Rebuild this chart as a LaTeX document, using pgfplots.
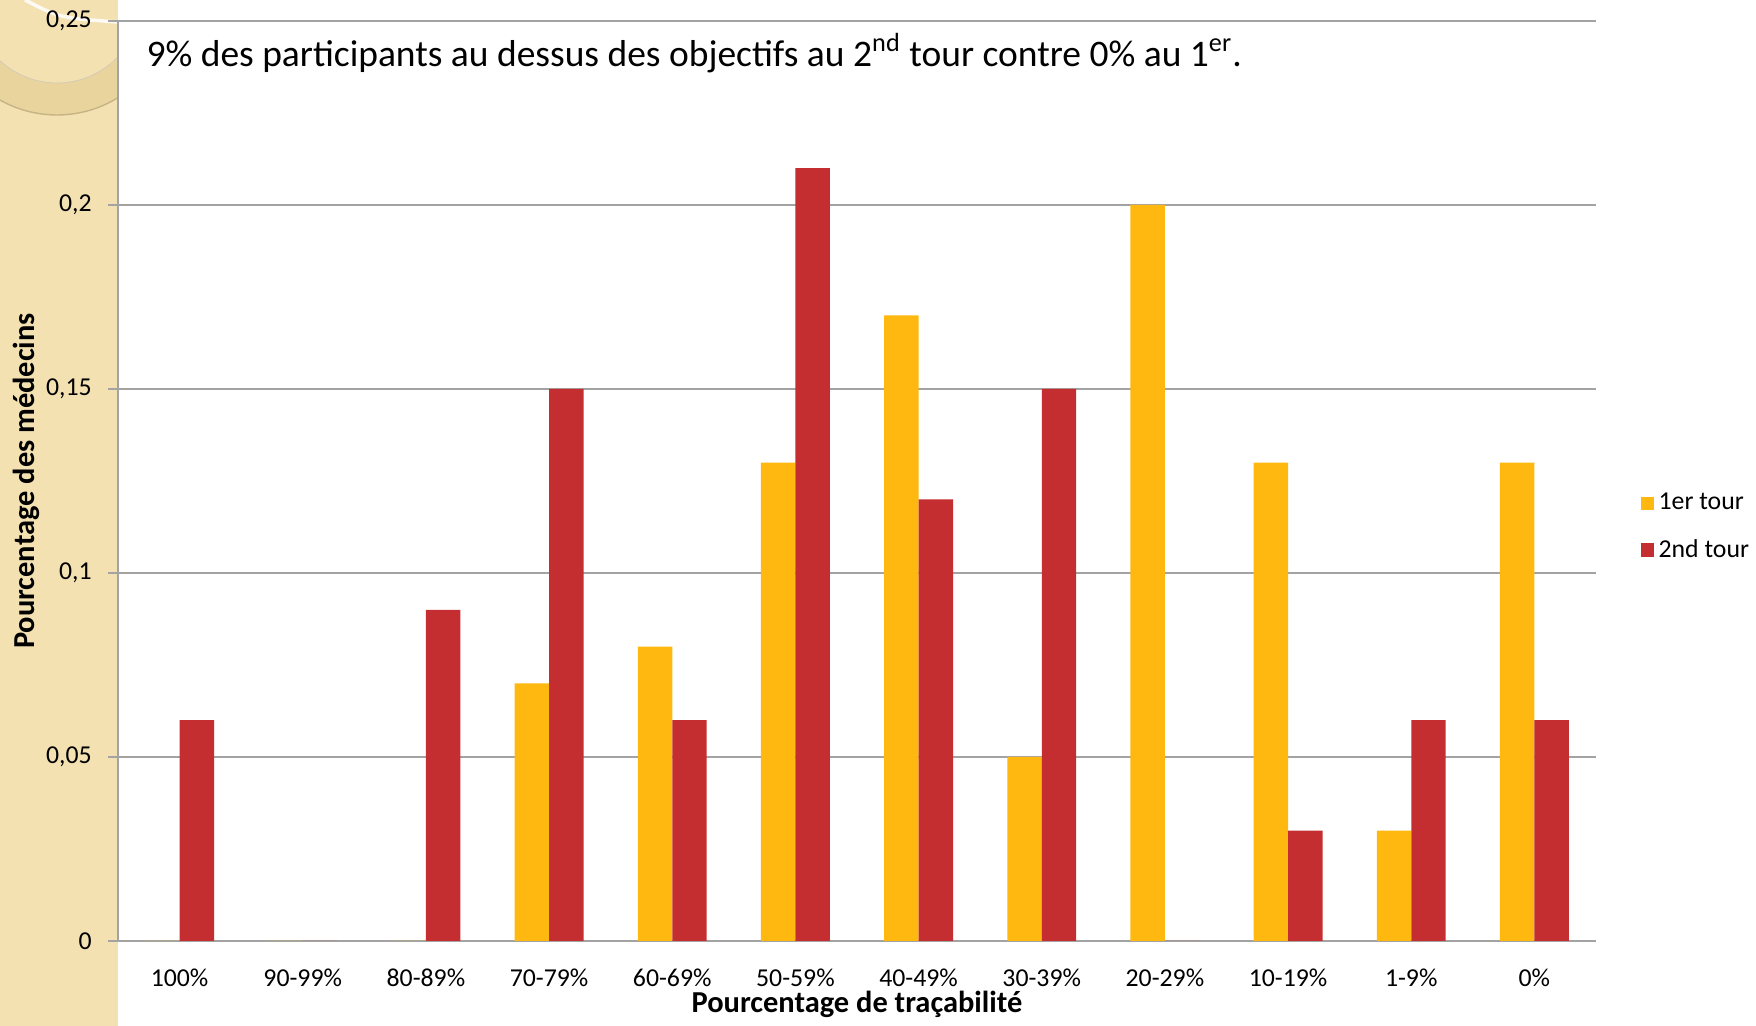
\documentclass[border=0pt]{standalone}
\usepackage{pgfplots}
\pgfplotsset{compat=1.18}
\usepackage{fontspec}
\setmainfont{Carlito}

\definecolor{tourA}{HTML}{FFB80F}
\definecolor{tourB}{HTML}{C42E30}
\definecolor{strip}{HTML}{F3E1B2}
\definecolor{ring}{HTML}{EAD49E}
\definecolor{gridgray}{HTML}{A3A3A3}

\begin{document}
\begin{tikzpicture}
\useasboundingbox (0,0) rectangle (263.4mm,153.9mm);
% beige side strip with the decorative ring
\fill[strip] (0,0) rectangle (17.7mm,153.9mm);
\begin{scope}
  \clip (0,0) rectangle (17.7mm,153.9mm);
  \fill[ring, even odd rule] (8.55mm,154.05mm) circle (17.4mm) (8.55mm,154.05mm) circle (12.6mm);
  \draw[ring!70!black!50, line width=0.3pt] (8.55mm,154.05mm) circle (12.6mm);
  \draw[ring!85!black, line width=0.6pt] (8.55mm,154.05mm) circle (17.4mm);
  \draw[white!85!strip, line width=1.5pt] (3.75mm,153.9mm) .. controls (9mm,151.2mm) .. (17.7mm,150.6mm);
\end{scope}

\begin{axis}[
  at={(17.7mm,12.75mm)}, anchor=south west,
  scale only axis,
  width=221.7mm, height=138mm,
  ybar=0pt, bar width=0.28,
  xmin=-0.5, xmax=11.5,
  ymin=0, ymax=0.25,
  axis x line*=bottom, axis y line*=left,
  axis line style={gridgray, line width=1.2pt, -},
  xtick={0,...,11},
  xticklabels={100\%,90-99\%,80-89\%,70-79\%,60-69\%,50-59\%,40-49\%,30-39\%,20-29\%,10-19\%,1-9\%,0\%},
  xtick style={draw=none},
  ytick={0,0.05,0.1,0.15,0.2,0.25},
  yticklabels={0,{0,05},{0,1},{0,15},{0,2},{0,25}},
  tick align=outside,
  major tick length=1.5mm,
  ytick style={gridgray, line width=0.8pt},
  ymajorgrids,
  grid style={gridgray, line width=0.8pt},
  tick label style={font=\fontsize{11}{13}\selectfont},
  xticklabel style={yshift=-1.4mm},
  yticklabel style={xshift=-1.2mm},
  xlabel={Pourcentage de traçabilité},
  ylabel={Pourcentage des médecins},
  label style={font=\fontsize{13}{15}\selectfont\bfseries},
  xlabel style={at={(axis description cs:0.5,-0.069)}, anchor=center},
  ylabel style={at={(axis description cs:-0.062,0.5)}, anchor=center},
  legend style={at={(axis description cs:1.03,0.45)}, anchor=west,
    draw=none, fill=none, font=\fontsize{11}{13}\selectfont,
    row sep=2.5mm, inner sep=0pt},
  legend cell align=left,
]
\addplot[draw=none, fill=tourA,
  legend image code/.code={\fill[tourA] (0pt,-2.8pt) rectangle (5.6pt,2.8pt);}]
  coordinates {(0,0) (1,0) (2,0) (3,0.07) (4,0.08) (5,0.13) (6,0.17) (7,0.05) (8,0.20) (9,0.13) (10,0.03) (11,0.13)};
\addplot[draw=none, fill=tourB,
  legend image code/.code={\fill[tourB] (0pt,-2.8pt) rectangle (5.6pt,2.8pt);}]
  coordinates {(0,0.06) (1,0) (2,0.09) (3,0.15) (4,0.06) (5,0.21) (6,0.12) (7,0.15) (8,0) (9,0.03) (10,0.06) (11,0.06)};
\legend{1er tour, 2nd tour}
\node[anchor=west, inner sep=0pt, font=\fontsize{16}{19}\selectfont]
  at (axis description cs:0.019,0.965)
  {9\% des participants au dessus des objectifs au 2\textsuperscript{nd} tour contre 0\% au 1\textsuperscript{er}.};
\end{axis}
\end{tikzpicture}
\end{document}
